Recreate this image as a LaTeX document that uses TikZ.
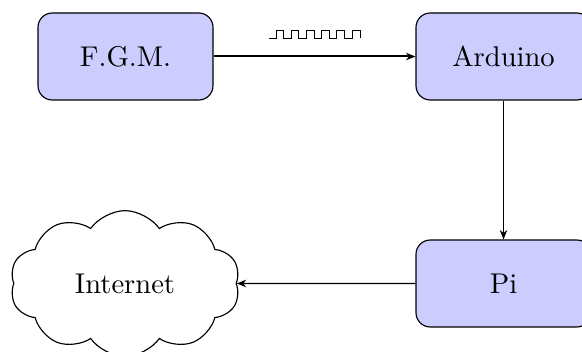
\documentclass[tikz,border=0pt]{standalone}
\usetikzlibrary{shapes.symbols,arrows.meta}
\tikzset{
  blockbox/.style={draw,fill=blue!20,rounded corners=5pt,minimum width=61.25pt,minimum height=30.45pt,inner sep=0pt},
  netcloud/.style={draw,cloud,cloud puffs=10,cloud puff arc=110,aspect=1.6,minimum width=80.5pt,minimum height=51pt,inner sep=0pt},
  link/.style={-{Stealth[length=3.3pt,width=2.6pt]}},
  wave/.style={line width=0.3pt}
}
\begin{document}
\begin{tikzpicture}[x=0.35pt,y=-0.35pt]
\useasboundingbox (0,0) rectangle (582,352);
\clip (0,0) rectangle (582,352);
\node[blockbox] (fgm) at (125.5,56.5) {F.G.M.};
\node[blockbox] (arduino) at (503.5,56.5) {Arduino};
\node[blockbox] (pi) at (503.5,283.5) {Pi};
\node[netcloud] (internet) at (125,283.5) {Internet};
\draw[link,line width=0.7pt] (fgm) -- (arduino);
\draw[link] (arduino) -- (pi);
\draw[link] (pi) -- (internet);
\draw[wave] (269,38) -- (276,38) -- (276,30.5) -- (283.5,30.5) -- (283.5,38) -- (291,38) -- (291,30.5) -- (298.5,30.5) -- (298.5,38) -- (306,38) -- (306,30.5) -- (314,30.5) -- (314,38) -- (321,38) -- (321,30.5) -- (329,30.5) -- (329,38) -- (336.5,38) -- (336.5,30.5) -- (344,30.5) -- (344,38) -- (352,38) -- (352,30.5) -- (360,30.5) -- (360,38);
\end{tikzpicture}
\end{document}
